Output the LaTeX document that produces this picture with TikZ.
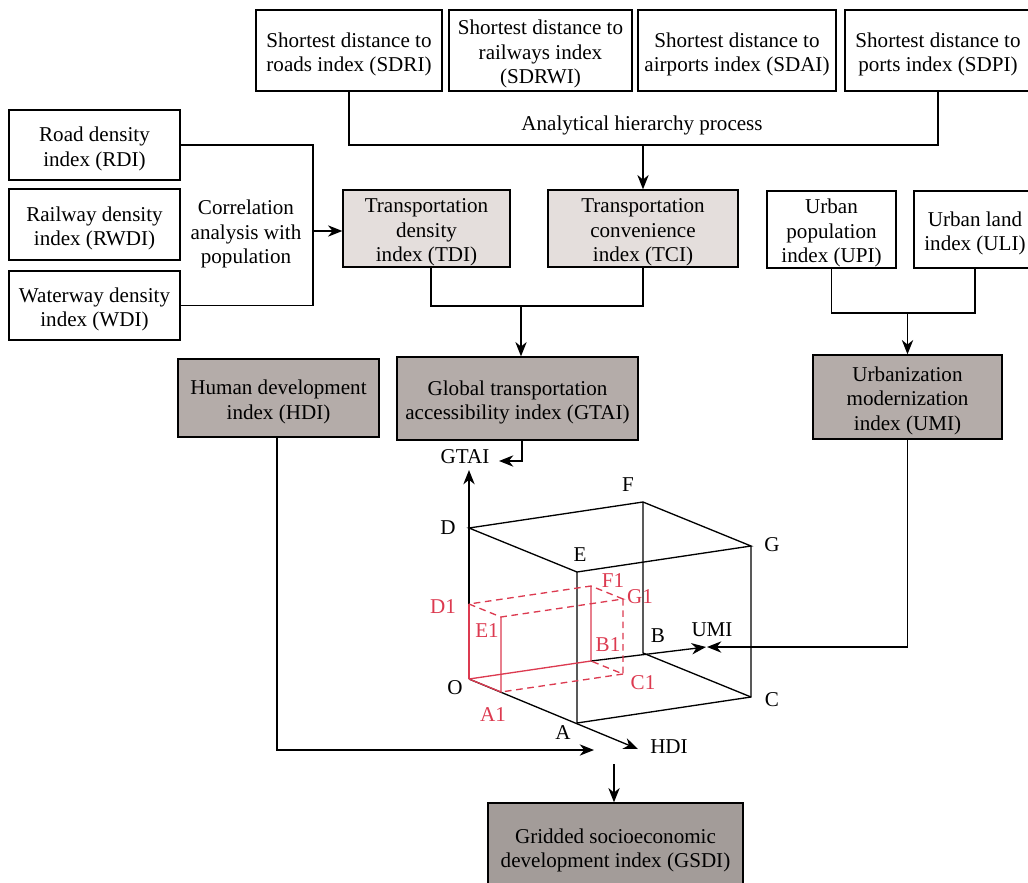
\documentclass[tikz,border=0pt]{standalone}
\usepackage{fontspec}
\setmainfont{Liberation Serif}
\usetikzlibrary{arrows.meta,fit,calc}
\definecolor{lightfill}{RGB}{228,222,220}
\definecolor{darkfill}{RGB}{180,172,169}
\definecolor{gsdifill}{RGB}{163,156,153}
\definecolor{redc}{RGB}{220,58,80}
\begin{document}
\begin{tikzpicture}[x=0.0265cm,y=-0.0265cm,
 every node/.style={font=\fontsize{15.9}{18.5}\selectfont},
 box/.style={draw=black, line width=1pt, inner sep=0pt},
 lightbox/.style={box, fill=lightfill},
 darkbox/.style={box, fill=darkfill},
 gbox/.style={box, fill=gsdifill},
 conn/.style={line width=1pt},
 arr/.style={line width=1pt, -{Stealth[length=3.8mm,width=3mm,inset=1.2mm]}},
 lbl/.style={inner sep=0pt, align=center},
 boxtext/.style={lbl, yshift=-0.1cm},
 redlbl/.style={inner sep=0pt, text=redc},
 redsolid/.style={draw=redc, line width=1pt},
 reddash/.style={draw=redc, line width=1pt, dash pattern=on 5pt off 3.5pt},
]
\useasboundingbox (0,0) rectangle (1028,882);
\clip (0,0) rectangle (1028,882);

% top row
\node[box, fit={(256,10)(442,91)}] (sdri) {};
\node[boxtext] (sdrit) at (sdri.center) {Shortest distance to\\roads index (SDRI)};
\node[box, fit={(449,10)(632,91)}] (sdrwi) {};
\node[boxtext] (sdrwit) at (sdrwi.center) {Shortest distance to\\railways index\\(SDRWI)};
\node[box, fit={(638,10)(836,91)}] (sdai) {};
\node[boxtext] (sdait) at (sdai.center) {Shortest distance to\\airports index (SDAI)};
\node[box, fit={(845,10)(1031,91)}] (sdpi) {};
\node[boxtext] (sdpit) at (sdpi.center) {Shortest distance to\\ports index (SDPI)};
\node[lbl] (ahp) at (642,125) {Analytical hierarchy process};
\coordinate (ahpj) at (642,145);
\draw[conn] (sdri.south) |- (ahpj) -| (sdpi.south);

% left column
\node[box, fit={(9,110)(180,180)}] (rdi) {};
\node[boxtext] (rdit) at (rdi.center) {Road density\\index (RDI)};
\node[box, fit={(9,189)(180,260)}] (rwdi) {};
\node[boxtext] (rwdit) at (rwdi.center) {Railway density\\index (RWDI)};
\node[box, fit={(9,271)(180,340)}] (wdi) {};
\node[boxtext] (wdit) at (wdi.center) {Waterway density\\index (WDI)};
\node[lbl] (corr) at (246,234) {Correlation\\analysis with\\population};
\coordinate (corrj) at (313,231);
\draw[conn] (rdi.east) -| (corrj) |- (wdi.east);

% transport indices
\node[lightbox, fit={(343,190)(510,267)}] (tdi) {};
\node[boxtext] (tdit) at (tdi.center) {Transportation\\density\\index (TDI)};
\node[lightbox, fit={(548,190)(738,267)}] (tci) {};
\node[boxtext] (tcit) at (tci.center) {Transportation\\convenience\\index (TCI)};
\draw[arr] (ahpj) -- (tci.north |- ahpj) -- (tci.north);
\draw[arr] (corrj) -- (tdi.west |- corrj);
\coordinate (tdij) at (431,306);
\coordinate (gtaij) at (521,306);
\draw[conn] (tdi.south -| tdij) -- (tdij) -| (tci.south);
\node[darkbox, fit={(397,357)(638,440)}] (gtai) {};
\node[boxtext] (gtait) at (gtai.center) {Global transportation\\accessibility index (GTAI)};
\draw[arr] (gtaij) -- (gtai.north -| gtaij);

% urban
\node[box, fit={(767,191)(896,268)}] (upi) {};
\node[boxtext] (upit) at (upi.center) {Urban\\population\\index (UPI)};
\node[box, fit={(914,191)(1036,268)}] (uli) {};
\node[boxtext] (ulit) at (uli.center) {Urban land\\index (ULI)};
\node[darkbox, fit={(813,355)(1002,439)}] (umi) {};
\node[boxtext] (umit) at (umi.center) {Urbanization\\modernization\\index (UMI)};
\coordinate (umijy) at (0,313);
\draw[conn] (upi.south) |- (umi.north |- umijy) -| (uli.south);
\draw[arr] (umi.north |- umijy) -- (umi.north);

% HDI
\node[darkbox, fit={(178,359)(379,437)}] (hdi) {};
\node[boxtext] (hdit) at (hdi.center) {Human development\\index (HDI)};

% GSDI
\node[gbox, fit={(488,803)(743,890)}] (gsdi) {};
\node[boxtext] (gsdit) at (gsdi.center) {Gridded socioeconomic\\development index (GSDI)};

% cube coordinates
\coordinate (O) at (469,679);
\coordinate (A) at (577,723);
\coordinate (B) at (643,653);
\coordinate (C) at (751,697);
\coordinate (D) at (469,528);
\coordinate (E) at (577,572);
\coordinate (F) at (643,502);
\coordinate (G) at (751,546);
\coordinate (A1) at (501,692);
\coordinate (B1) at (591,661);
\coordinate (C1) at (623,674);
\coordinate (D1) at (469,604);
\coordinate (E1) at (501,617);
\coordinate (F1) at (591,586);
\coordinate (G1) at (623,599);
\coordinate (ytip) at (469,470);
\coordinate (xtip) at (638,749);
\coordinate (ztip) at (706,647);

% axes
\draw[arr] (O) -- (ytip);
\draw[arr] (O) -- (xtip);
\draw[arr] (B1) -- (ztip);
% cube edges
\draw[conn] (D) -- (E) -- (G) -- (F) -- cycle;
\draw[conn] (E) -- (A) -- (C) -- (G);
\draw[conn] (F) -- (B) -- (C);

% inner red box
\draw[redsolid] (O) -- (D1);
\draw[redsolid] (O) -- (A1) -- (E1);
\draw[redsolid] (O) -- (B1) -- (F1);
\draw[reddash] (D1) -- (E1) -- (G1) -- (F1) -- cycle;
\draw[reddash] (G1) -- (C1) -- (B1);
\draw[reddash] (C1) -- (A1);

% labels
\node[lbl] (lgtai) at (465,457) {GTAI};
\node[lbl] (lD) at (448,528) {D};
\node[lbl] (lF) at (628,485) {F};
\node[lbl] (lE) at (580,555) {E};
\node[lbl] (lG) at (772,545) {G};
\node[lbl] (lB) at (658,636) {B};
\node[lbl] (lumi) at (712,630) {UMI};
\node[lbl] (lC) at (772,700) {C};
\node[lbl] (lO) at (455,688) {O};
\node[lbl] (lA) at (563,733) {A};
\node[lbl] (lhdi) at (669,747) {HDI};
\node[redlbl] (lD1) at (443,607) {D1};
\node[redlbl] (lE1) at (487,631) {E1};
\node[redlbl] (lF1) at (613,581) {F1};
\node[redlbl] (lG1) at (640,597) {G1};
\node[redlbl] (lB1) at (608,645) {B1};
\node[redlbl] (lC1) at (643,683) {C1};
\node[redlbl] (lA1) at (493,715) {A1};

% connectors into cube
\coordinate (gtaiturn) at (522,461);
\coordinate (gtaitip) at (499,461);
\draw[arr] (gtai.south -| gtaiturn) -- (gtaiturn) -- (gtaitip);
\coordinate (umitip) at (707,647);
\draw[arr] (umi.south) |- (umitip);
\coordinate (hditurn) at (277,750);
\coordinate (hditip) at (594,750);
\draw[arr] (hdi.south -| hditurn) -- (hditurn) -- (hditip);
\coordinate (gsdistart) at (614,764);
\draw[arr] (gsdistart) -- (gsdi.north -| gsdistart);
\end{tikzpicture}
\end{document}
